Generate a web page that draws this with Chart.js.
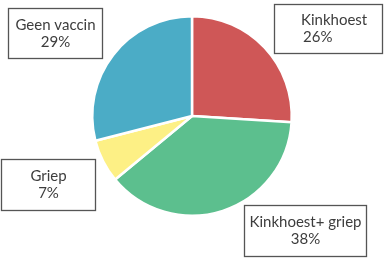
<!DOCTYPE html>
<html lang="nl">
<head>
  <meta charset="UTF-8">
  <title>Vaccinatie</title>
  <script src="https://cdn.jsdelivr.net/npm/chart.js"></script>
  <style>
    html, body { margin: 0; padding: 0; background: #fff; }
    #wrap { width: 384px; height: 260px; position: relative; }
  </style>
</head>
<body>
  <div id="wrap">
    <canvas id="pie" width="384" height="260"></canvas>
  </div>

  <script>
    // data
    const categories = ['Kinkhoest', 'Kinkhoest+ griep', 'Griep', 'Geen vaccin'];
    const values = [26, 38, 7, 29];
    const colors = ['#CF5757', '#5CBF8E', '#FDF085', '#4BACC6'];

    // where each callout box sits (left, top, right, bottom) and text alignment
    const boxes = [
      { rect: [274, 4, 383, 54], align: 'left', x: 301 },
      { rect: [244, 205, 367, 257], align: 'center' },
      { rect: [1, 159, 96, 211], align: 'center' },
      { rect: [8, 8, 103, 59], align: 'center' }
    ];

    // draws the boxed labels after the pie
    const calloutPlugin = {
      id: 'callouts',
      afterDraw(chart) {
        const ctx = chart.ctx;
        ctx.save();
        ctx.font = '15px Lato, sans-serif';
        ctx.strokeStyle = '#555';
        ctx.lineWidth = 1.3;
        ctx.textBaseline = 'middle';
        boxes.forEach((b, i) => {
          const [l, t, r, btm] = b.rect;
          ctx.fillStyle = '#fff';
          ctx.fillRect(l, t, r - l, btm - t);
          ctx.strokeRect(l + 0.5, t + 0.5, r - l - 1, btm - t - 1);
          ctx.fillStyle = '#3d3d3d';
          const cy = (t + btm) / 2;
          const lines = [categories[i], values[i] + '%'];
          if (b.align === 'left') {
            ctx.textAlign = 'left';
            ctx.fillText(lines[0], b.x, cy - 8.5);
            ctx.fillText(lines[1], b.x + 2, cy + 8.5);
          } else {
            ctx.textAlign = 'center';
            const cx = (l + r) / 2;
            ctx.fillText(lines[0], cx, cy - 8.5);
            ctx.fillText(lines[1], cx, cy + 8.5);
          }
        });
        ctx.restore();
      }
    };

    new Chart(document.getElementById('pie'), {
      type: 'pie',
      data: {
        labels: categories,
        datasets: [{
          data: values,
          backgroundColor: colors,
          borderColor: '#fff',
          borderWidth: 2.5
        }]
      },
      options: {
        responsive: false,
        animation: false,
        layout: { padding: { top: 15, bottom: 43 } },
        plugins: {
          legend: { display: false },
          tooltip: { enabled: false }
        }
      },
      plugins: [calloutPlugin]
    });
  </script>
</body>
</html>
